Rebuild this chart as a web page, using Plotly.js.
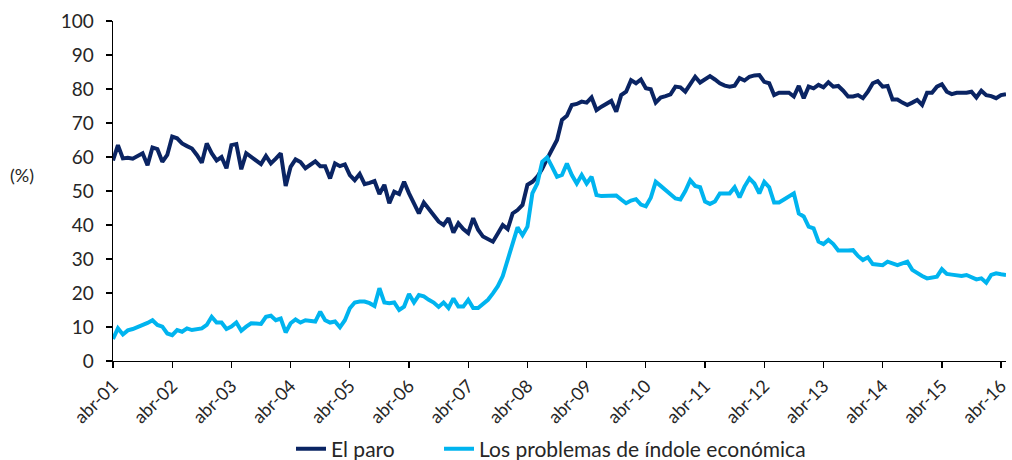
<!DOCTYPE html>
<html>
<head>
<meta charset="utf-8">
<script src="https://cdn.plot.ly/plotly-3.0.1.min.js"></script>
<style>html,body{margin:0;padding:0;background:#fff;}#chart{width:1012px;height:460px;}</style>
</head>
<body>
<div id="chart"></div>
<script>
// Monthly index, 0 = abr-01 ... 181 = may-16
const tickLabels = ["abr-01","abr-02","abr-03","abr-04","abr-05","abr-06","abr-07","abr-08","abr-09","abr-10","abr-11","abr-12","abr-13","abr-14","abr-15","abr-16"];
const tickIdx = [0,12,24,36,48,60,72,84,96,108,120,132,144,156,168,180];

const elParo = [
59,63.5,59.6,59.8,59.5,60.3,61.1,57.6,62.8,62.3,58.6,60.6,
66,65.5,64,63.2,62.5,60.6,58.3,64,61.1,59,60,56.7,
63.5,63.8,56.4,61.1,60,59.2,57.9,60.3,58.1,59.5,61.1,51.5,
57.1,59.3,58.5,56.7,57.8,58.7,57.3,57.3,53.7,58.1,57.3,57.8,
54.7,53.2,55,52,52.4,52.9,49.1,51.8,46.4,49.8,49.1,52.7,
49.3,46.4,43.4,46.6,44.6,42.5,41,40,42,37.8,40.5,38.8,
37.6,42,38.6,36.6,36,35.1,37.5,40,38.8,43.4,44.4,45.9,
51.8,52.7,54.2,56.5,59.5,62.5,65,70.9,72.1,75.3,75.6,76.3,
76,77.5,73.8,74.8,75.5,76.5,73.3,78.2,79.2,82.6,81.7,82.8,
80.2,79.9,76,77.5,77.9,78.4,80.7,80.5,79.2,81.5,83.6,81.9,
83,83.8,82.8,81.7,81,80.7,81,83.2,82.5,83.6,84,84.1,
82.1,81.7,78.2,78.9,78.9,78.9,77.8,80.9,77.3,80.7,80.2,81.2,
80.5,82,80.7,80.9,79.5,77.8,77.8,78.2,77.3,79.2,81.7,82.3,
80.7,80.9,76.9,76.9,76,75.3,76,76.8,75.3,78.9,78.9,80.7,
81.4,79.2,78.5,78.9,78.9,78.9,79.2,77.5,79.5,78.2,77.9,77.3,
78.2,78.5
];

const economicos = [
6.5,9.6,7.8,9,9.4,9.9,10.5,11.2,12,10.6,10.1,8.1,
7.6,9.1,8.6,9.6,9.1,9.3,9.6,10.6,13,11.3,11.3,9.4,
10.1,11.3,8.9,10.1,11.1,11,10.9,13,13.3,12,12.5,8.4,
11.1,12.2,11.3,12,11.8,11.6,14.5,12,11.3,11.6,9.9,12,
15.5,17.2,17.5,17.5,17,16.2,21.4,17.2,17,17.2,15,16,
19.7,17.2,19.4,19,18,17.2,15.9,17.2,15.6,18.4,16,16,
18,15.6,15.6,16.8,18,19.9,22,25,30,35,39.3,37,
39.5,49.3,52.2,58.6,59.9,57.1,54.2,54.7,58.1,54.7,52.2,54.7,
52.2,54.2,48.8,48.5,48.5,48.7,48.7,47.5,46.4,47.2,47.6,46,
45.5,48,52.7,51.5,50.3,49,47.8,47.5,50,53.2,51.5,51.1,
46.9,46.2,46.9,49.3,49.3,49.3,51.1,48.1,51.3,53.7,52.2,49.3,
52.7,51.1,46.6,46.6,47.5,48.5,49.3,43.4,42.5,39.5,39,35.1,
34.4,35.6,34.4,32.5,32.4,32.5,32.6,30.9,29.7,30.5,28.5,28.4,
28.2,29.2,28.6,28.2,28.7,29.2,26.8,25.8,25,24.3,24.5,24.8,
27,25.6,25.4,25.3,25,25.3,24.8,24,24.3,23,25.3,25.8,
25.5,25.3
];

const months = elParo.map((_, i) => i);

const FONT = "Lato, 'Open Sans', sans-serif";
const data = [
  {x: months, y: elParo, type: 'scatter', mode: 'lines', name: 'El paro',
   legend: 'legend', line: {color: '#0a2463', width: 4}},
  {x: months, y: economicos, type: 'scatter', mode: 'lines', name: 'Los problemas de índole económica',
   legend: 'legend2', line: {color: '#00b4ef', width: 4}}
];

const legendBase = {orientation: 'h', xref: 'container', yref: 'container', xanchor: 'left',
                    y: 11/460, yanchor: 'middle', bgcolor: 'rgba(0,0,0,0)',
                    font: {size: 21, color: '#262626'}};

const layout = {
  width: 1012, height: 460,
  margin: {l: 113, r: 6, t: 21, b: 99, autoexpand: false},
  paper_bgcolor: '#fff', plot_bgcolor: '#fff',
  font: {family: FONT, size: 18, color: '#262626'},
  showlegend: true,
  legend: Object.assign({}, legendBase, {x: 291/1012}),
  legend2: Object.assign({}, legendBase, {x: 439/1012}),
  xaxis: {
    range: [0, 181], tickmode: 'array', tickvals: tickIdx, ticktext: tickLabels,
    tickangle: -45, ticks: 'outside', ticklen: 6, tickcolor: '#000', tickwidth: 1.3,
    showline: true, linecolor: '#000', linewidth: 1.3, showgrid: false, zeroline: false,
    tickfont: {size: 18, color: '#262626'}, automargin: false
  },
  yaxis: {
    range: [0, 100], dtick: 10, tick0: 0, ticks: 'outside', ticklen: 6, tickcolor: '#000', tickwidth: 1.3,
    showline: true, linecolor: '#000', linewidth: 1.3, showgrid: false, zeroline: false,
    ticklabelstandoff: 8,
    tickfont: {size: 19, color: '#262626'}, automargin: false
  },
  annotations: [{
    text: '(%)', xref: 'paper', yref: 'paper', x: -0.102, y: 0.547,
    xanchor: 'center', yanchor: 'middle', showarrow: false,
    font: {size: 18, color: '#262626'}
  }]
};

Plotly.newPlot('chart', data, layout, {displayModeBar: false, staticPlot: true});
</script>
</body>
</html>
